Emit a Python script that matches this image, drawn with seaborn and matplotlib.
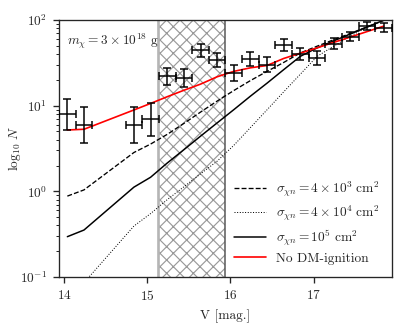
import matplotlib
matplotlib.use('Agg')
import matplotlib.pyplot as plt
import numpy as np
import pandas as pd
import seaborn as sns

# bin centres [mag] and observed counts with asymmetric Poisson errors
V = [14.04, 14.24, 14.84, 15.04, 15.24, 15.44, 15.64, 15.84, 16.04,
     16.24, 16.44, 16.64, 16.84, 17.04, 17.24, 17.44, 17.64, 17.84]
counts = [8, 6, 6, 7, 22, 21, 44, 34, 24, 35, 30, 51, 40, 36, 53, 64, 85, 81]
err_lo = [2.76, 2.37, 2.37, 2.58, 4.65, 4.54, 6.6, 5.8, 4.86, 5.9, 5.44, 7.1,
          6.3, 5.97, 7.26, 8.0, 9.2, 9.0]
err_hi = [3.96, 3.60, 3.60, 3.78, 5.77, 5.66, 7.69, 6.90, 5.97, 6.98, 6.55,
          8.19, 7.38, 7.06, 8.33, 9.05, 10.26, 10.04]
bin_half = 0.1

# model predictions
sigma_4e3 = [0.88, 1.04, 2.84, 3.56, 4.62, 6.2, 8.4, 11.3, 15.0, 19.6, 25.1,
             31.9, 41.2, 49.3, 58.7, 69.5, 82.8, 98.7]
sigma_4e4 = [0.07, 0.086, 0.394, 0.55, 0.80, 1.13, 1.6, 2.25, 3.44, 5.55,
             8.95, 14.5, 23.3, 37.5, 49.3, 64.6, 82.0, 100.0]
sigma_1e5 = [0.296, 0.354, 1.12, 1.46, 2.14, 3.06, 4.4, 6.29, 8.97, 12.9,
             18.3, 26.3, 37.6, 47.1, 56.9, 68.4, 82.4, 99.0]
no_ignition = [5.2, 5.3, 8.9, 10.6, 12.7, 15.1, 17.8, 21.7, 25.1, 27.6, 29.4,
               35.5, 40.9, 47.2, 54.6, 63.1, 73.0, 84.4]

excluded = (15.13, 15.94)

sns.set_style('ticks')
plt.rcParams['font.family'] = 'serif'
plt.rcParams['font.serif'] = ['cmr10', 'DejaVu Serif']
plt.rcParams['mathtext.fontset'] = 'cm'
plt.rcParams['axes.formatter.use_mathtext'] = True
plt.rcParams['font.size'] = 8
plt.rcParams['hatch.color'] = '#999999'
plt.rcParams['hatch.linewidth'] = 0.7

df = pd.DataFrame({'V': V, 's1': sigma_4e3, 's2': sigma_4e4,
                   's3': sigma_1e5, 'red': no_ignition})

fig = plt.figure(figsize=(407 / 120, 326 / 120), dpi=120)
ax = fig.add_axes([0.145, 0.150, 0.818, 0.789])

ax.axvspan(*excluded, facecolor='white', edgecolor='#999999', hatch='xxx',
           linewidth=0, zorder=0)
ax.axvline(excluded[0], color='#b5b5b5', lw=1.6, zorder=1)
ax.axvline(excluded[1], color='#555555', lw=0.9, zorder=1)

ax.errorbar(V, counts, xerr=bin_half, yerr=[err_lo, err_hi], fmt='none',
            ecolor='black', elinewidth=0.9, capsize=2.2, capthick=0.9, zorder=4)

sns.lineplot(data=df, x='V', y='s1', ax=ax, color='black', lw=0.8,
             linestyle='--', label=r'$\sigma_{\chi n} = 4\times10^{3}\ \mathrm{cm}^2$')
sns.lineplot(data=df, x='V', y='s2', ax=ax, color='black', lw=0.6,
             linestyle=':', label=r'$\sigma_{\chi n} = 4\times10^{4}\ \mathrm{cm}^2$')
sns.lineplot(data=df, x='V', y='s3', ax=ax, color='black', lw=0.9,
             linestyle='-', label=r'$\sigma_{\chi n} = 10^{5}\ \mathrm{cm}^2$')
sns.lineplot(data=df, x='V', y='red', ax=ax, color='red', lw=1.0,
             linestyle='-', label='No DM-ignition')

ax.set_yscale('log')
ax.set_xlim(13.94, 17.94)
ax.set_ylim(0.1, 100)
ax.set_xticks([14, 15, 16, 17])
ax.set_xlabel('V [mag.]', fontsize=8)
ax.set_ylabel(r'$\log_{10}\,N$', fontsize=8)
ax.yaxis.set_label_coords(-0.108, 0.5)
ax.tick_params(labelsize=8)

ax.text(0.025, 0.955, r'$m_\chi = 3\times10^{18}$ g', transform=ax.transAxes,
        ha='left', va='top', fontsize=8)

ax.legend(loc='lower right', frameon=False, fontsize=8, handlelength=2.4,
          labelspacing=0.35, bbox_to_anchor=(1.0, 0.0))

fig.savefig('out.png', dpi=120)
